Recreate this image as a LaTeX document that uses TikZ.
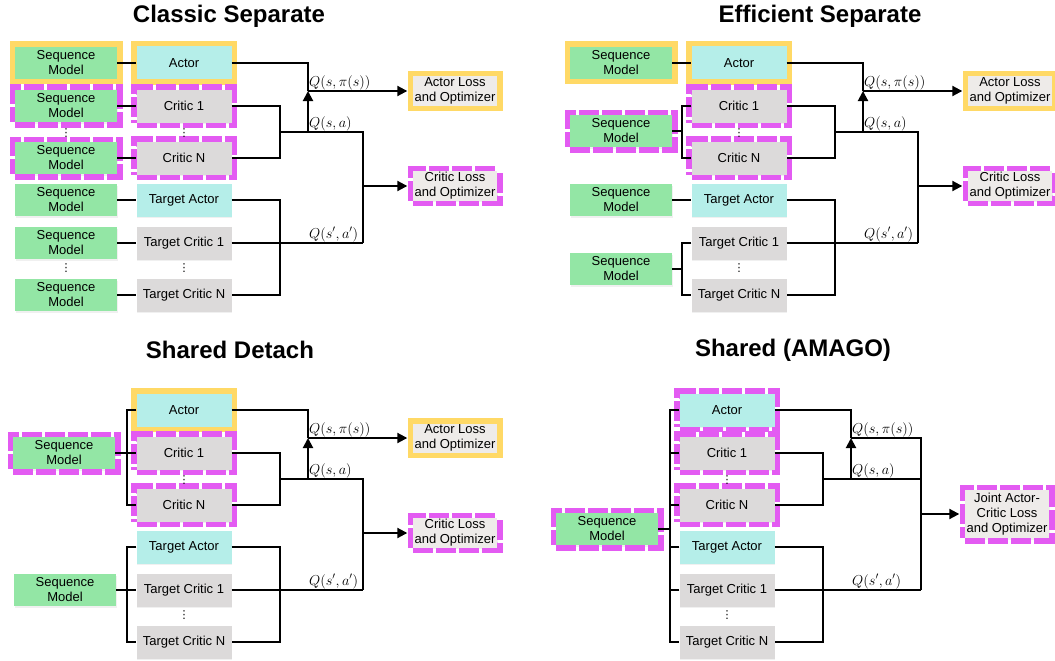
\documentclass[tikz,border=0pt]{standalone}
\usepackage{fontspec}
\setmainfont{Liberation Sans}
\newfontfamily\dejavu{DejaVu Sans}
\usetikzlibrary{arrows.meta,shadows}

\definecolor{seqgreen}{HTML}{93E6A5}
\definecolor{actcyan}{HTML}{B5EEE9}
\definecolor{critgray}{HTML}{DCDADA}
\definecolor{lossgray}{HTML}{EEEBE9}
\definecolor{fyellow}{HTML}{FFD966}
\definecolor{fmagenta}{HTML}{E35BF2}

\tikzset{
	cell/.style={rectangle,align=center,inner sep=1pt,font=\fontsize{13}{15}\selectfont,
		drop shadow={opacity=0.12,shadow xshift=0.8pt,shadow yshift=-1.6pt}},
	seq/.style={cell,fill=seqgreen,minimum width=102pt,minimum height=32pt},
	act/.style={cell,fill=actcyan,minimum width=95pt,minimum height=33pt},
	crit/.style={cell,fill=critgray,minimum width=95pt,minimum height=33pt},
	loss/.style={cell,fill=lossgray,minimum width=84pt,minimum height=29pt},
	yframe/.style={preaction={draw=fyellow,line width=11pt}},
	mframe/.style={preaction={draw=fmagenta,line width=11pt,dash pattern=on 20pt off 3pt}},
	dots/.style={inner sep=0pt,font=\dejavu\fontsize{11}{11}\selectfont},
	wire/.style={line width=2pt},
	arr/.style={-{Triangle[length=10pt,width=10pt]}},
	qlab/.style={anchor=south west,inner sep=1pt,font=\fontsize{14.4}{16}\selectfont},
	ptitle/.style={font=\fontsize{24}{26}\selectfont\bfseries}
}

\begin{document}
\begin{tikzpicture}[x=1pt,y=-1pt]
\useasboundingbox (0,0) rectangle (1055,661);

%titles
\node[ptitle] (tA) at (229,16) {Classic Separate};
\node[ptitle] (tB) at (820,16) {Efficient Separate};
\node[ptitle] (tC) at (230,350) {Shared Detach};
\node[ptitle] (tD) at (793,350) {Shared (AMAGO)};

%heads, same in every panel
\foreach \p/\dx/\dy/\af in {A/0/0/yframe,B/555/0/yframe,C/0/347/yframe,D/543/347/mframe}{
\begin{scope}[shift={(\dx,\dy)}]
	\node[act,\af] (\p act) at (184,63) {Actor};
	\node[crit,mframe] (\p c1) at (184,106) {Critic 1};
	\node[crit,mframe] (\p cN) at (184,158) {Critic N};
	\node[act] (\p tact) at (184,200) {Target Actor};
	\node[crit] (\p tc1) at (184,243) {Target Critic 1};
	\node[crit] (\p tcN) at (184,295) {Target Critic N};
	\node[dots] (\p d1) at (184,133) {⋮};
	\node[dots] (\p d2) at (184,268) {⋮};
	\coordinate (\p qm) at (280,132);
	\coordinate (\p tm) at (280,243);
	\coordinate (\p qa) at (308,132);
	\coordinate (\p pi) at (308,91);
	\draw[wire] (\p c1.east) -| (\p qm) |- (\p cN.east);
	\draw[wire] (\p tact.east) -| (\p tm) |- (\p tcN.east);
	\draw[wire] (\p act.east) -| (\p pi);
	\draw[wire,arr] (\p qa) -- (\p pi);
	\node[qlab] (\p l1) at (\p pi) {$Q(s,\pi(s))$};
	\node[qlab] (\p l2) at (\p qa) {$Q(s,a)$};
	\node[qlab] (\p l3) at (\p qa |- \p tm) {$Q(s',a')$};
\end{scope}
}

%losses
\foreach \p/\dx/\dy in {A/0/0,B/555/0,C/0/347}{
\begin{scope}[shift={(\dx,\dy)}]
	\node[loss,yframe] (\p al) at (455,91) {Actor Loss\\and Optimizer};
	\node[loss,mframe] (\p cl) at (455,186) {Critic Loss\\and Optimizer};
	\coordinate (\p qp) at (363,243);
	\draw[wire,arr,shorten >=5.5pt] (\p pi) -- (\p al);
	\draw[wire] (\p tc1.east) -- (\p qp);
	\draw[wire] (\p qm) -| (\p qp);
	\draw[wire,arr,shorten >=5.5pt] (\p qp |- \p cl) -- (\p cl);
\end{scope}
}

%Classic Separate
\node[seq,yframe] (Asa) at (66,63) {Sequence\\Model};
\node[seq,mframe] (As1) at (66,106) {Sequence\\Model};
\node[seq,mframe] (AsN) at (66,158) {Sequence\\Model};
\node[seq] (Ast) at (66,200) {Sequence\\Model};
\node[seq] (Ast1) at (66,243) {Sequence\\Model};
\node[seq] (AstN) at (66,295) {Sequence\\Model};
\node[dots] (Ad3) at (66,133) {⋮};
\node[dots] (Ad4) at (66,268) {⋮};
\foreach \s/\h in {sa/act,s1/c1,sN/cN,st/tact,st1/tc1,stN/tcN}
	\draw[wire] (A\s) -- (A\h);

%Efficient Separate
\begin{scope}[shift={(555,0)}]
	\node[seq,yframe] (Bsa) at (66,63) {Sequence\\Model};
	\node[seq,mframe] (Bsc) at (66,131) {Sequence\\Model};
	\node[seq] (Bst) at (66,200) {Sequence\\Model};
	\node[seq] (Bstc) at (66,269) {Sequence\\Model};
	\coordinate (Bb1) at (127,131);
	\coordinate (Bb2) at (127,269);
	\draw[wire] (Bsa) -- (Bact);
	\draw[wire] (Bst) -- (Btact);
	\draw[wire] (Bsc) -- (Bb1);
	\draw[wire] (Bc1.west) -| (Bb1) |- (BcN.west);
	\draw[wire] (Bstc) -- (Bb2);
	\draw[wire] (Btc1.west) -| (Bb2) |- (BtcN.west);
\end{scope}

%Shared Detach
\begin{scope}[shift={(0,347)}]
	\node[seq,mframe] (Csc) at (64,106) {Sequence\\Model};
	\node[seq] (Cst) at (65,243) {Sequence\\Model};
	\coordinate (Cb1) at (127,106);
	\coordinate (Cb2) at (127,243);
	\draw[wire] (Csc) -- (Cc1);
	\draw[wire] (Cact.west) -| (Cb1) |- (CcN.west);
	\draw[wire] (Cst) -- (Ctc1);
	\draw[wire] (Ctact.west) -| (Cb2) |- (CtcN.west);
\end{scope}

%Shared (AMAGO)
\begin{scope}[shift={(543,347)}]
	\node[seq,mframe] (Ds) at (64,182) {Sequence\\Model};
	\coordinate (Db) at (127,182);
	\draw[wire] (Ds) -- (Db);
	\draw[wire] (Dact.west) -| (Db) |- (DtcN.west);
	\foreach \h in {c1,cN,tact,tc1}
		\draw[wire] (D\h.west) -- (D\h.west -| Db);
	\node[loss,mframe,minimum height=48pt] (Djl) at (464,167) {Joint Actor-\\Critic Loss\\and Optimizer};
	\coordinate (Dqr) at (378,91);
	\coordinate (Dqp) at (378,243);
	\draw[wire] (Dpi) -- (Dqr) -- (Dqp);
	\draw[wire] (Dtc1.east) -- (Dqp);
	\draw[wire] (Dqm) -- (Dqr |- Dqm);
	\draw[wire,arr,shorten >=5.5pt] (Dqr |- Djl) -- (Djl);
\end{scope}

\end{tikzpicture}
\end{document}
